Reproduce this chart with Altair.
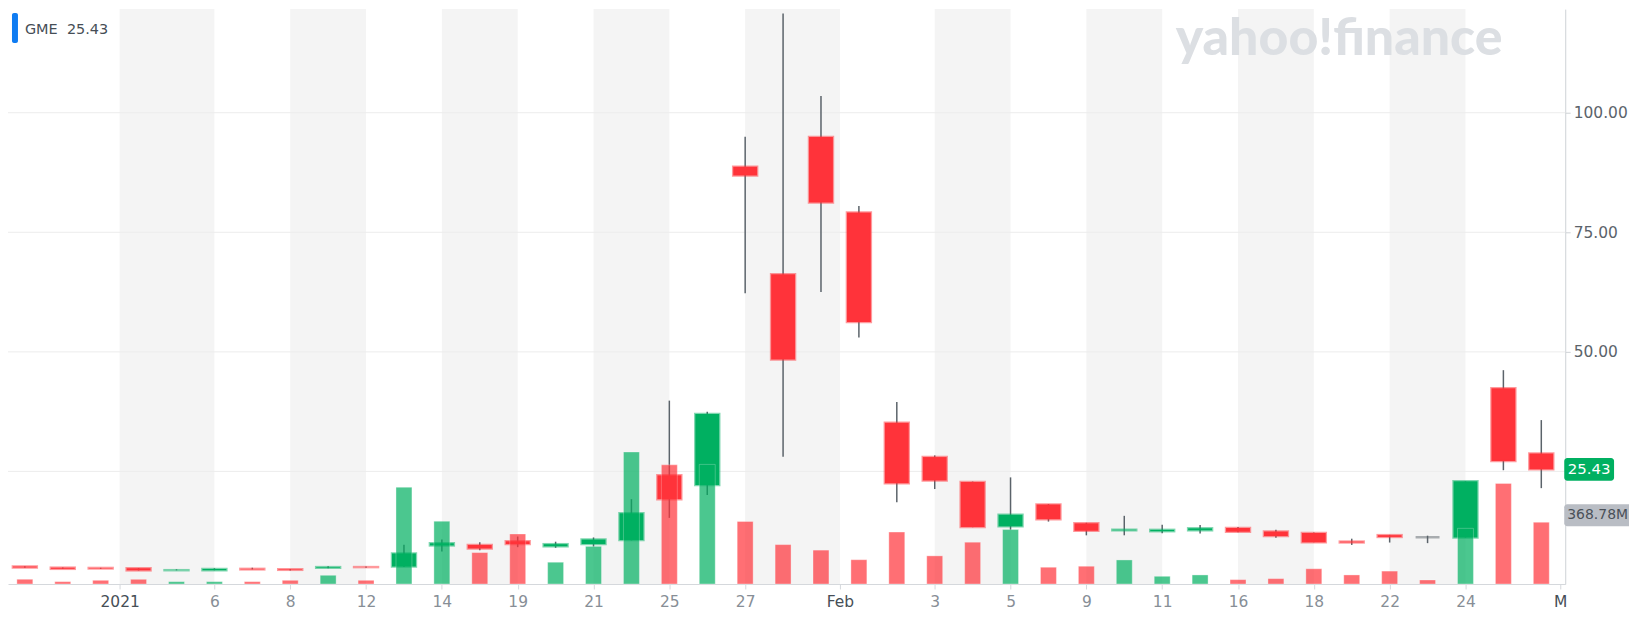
import altair as alt
import pandas as pd
import numpy as np

# ---------------- data (GME, split-adjusted, daily) ----------------
ticker = "GME"
dates = ["Dec 29", "Dec 30", "Dec 31", "Jan 4", "Jan 5", "Jan 6", "Jan 7", "Jan 8", "Jan 11", "Jan 12",
         "Jan 13", "Jan 14", "Jan 15", "Jan 19", "Jan 20", "Jan 21", "Jan 22", "Jan 25", "Jan 26", "Jan 27",
         "Jan 28", "Jan 29", "Feb 1", "Feb 2", "Feb 3", "Feb 4", "Feb 5", "Feb 8", "Feb 9", "Feb 10",
         "Feb 11", "Feb 12", "Feb 16", "Feb 17", "Feb 18", "Feb 19", "Feb 22", "Feb 23", "Feb 24", "Feb 25",
         "Feb 26"]
opens = [5.13, 4.87, 4.81, 4.75, 4.34, 4.335, 4.62, 4.545, 4.85, 4.99,
         5.105, 9.52, 9.62, 10.39, 9.34, 9.81, 10.65, 24.18, 22.14, 88.71,
         66.25, 94.93, 79.14, 35.19, 28.00, 22.80, 13.51, 18.10, 14.15, 12.69,
         12.50, 12.69, 13.165, 12.44, 12.12, 10.32, 11.67, 11.24, 11.18, 42.39,
         28.75]
highs = [5.18, 4.92, 4.84, 4.775, 4.52, 4.745, 4.86, 4.575, 5.16, 5.10,
         9.66, 10.77, 10.19, 11.38, 10.30, 11.19, 19.19, 39.80, 37.50, 95.00,
         120.75, 103.50, 80.50, 39.50, 28.35, 22.875, 23.75, 18.165, 14.25, 15.71,
         13.83, 13.81, 13.375, 12.80, 12.22, 10.93, 11.725, 11.56, 22.93, 46.17,
         35.73]
lows = [4.85, 4.60, 4.62, 4.29, 4.31, 4.33, 4.51, 4.27, 4.75, 4.83,
        5.01, 8.26, 8.50, 9.16, 9.02, 9.25, 10.58, 15.28, 20.05, 62.25,
        28.06, 62.50, 53.00, 18.56, 21.31, 13.33, 12.77, 14.505, 11.63, 11.64,
        12.055, 12.01, 12.26, 11.14, 10.16, 9.625, 10.125, 10.00, 11.18, 25.25,
        21.50]
closes = [4.90, 4.63, 4.71, 4.31, 4.3425, 4.59, 4.52, 4.4225, 4.985, 4.9875,
          7.85, 9.98, 8.875, 9.84, 9.78, 10.76, 16.25, 19.20, 37.00, 86.88,
          48.40, 81.25, 56.25, 22.50, 23.10, 13.375, 15.94, 15.00, 12.58, 12.80,
          12.775, 13.10, 12.38, 11.485, 10.17, 10.15, 11.30, 11.24, 22.93, 27.18,
          25.43]
volumes_m = [28, 14, 22, 28, 14, 14, 14, 22, 52, 22,
             578, 375, 187.6, 298.8, 130, 224.8, 788.6, 711.6, 714.4, 373.6,
             235.3, 202.3, 145, 310, 168, 249.6, 325.2, 100, 106, 143.6,
             46, 54, 26, 32, 91, 54, 77, 24, 332.4, 601,
             368.78]

tick_pos = [2.5, 5, 7, 9, 11, 13, 15, 17, 19, 21.5, 24, 26, 28, 30, 32, 34, 36, 38, 40.5]
tick_labels = ["2021", "6", "8", "12", "14", "19", "21", "25", "27", "Feb",
               "3", "5", "9", "11", "16", "18", "22", "24", "M"]
month_ticks = [2.5, 21.5, 40.5]
band_start = [2.5, 7, 11, 15, 19, 24, 28, 32, 36]
band_end = [5, 9, 13, 17, 21.5, 26, 30, 34, 38]
grid_values = [25, 50, 75, 100]
axis_values = [50, 75, 100]

# ---------------- styling ----------------
GREEN = "#00b061"
RED = "#ff333a"
GRAY = "#5b636a"
FONT = "DejaVu Sans"
W, H = 1563, 577
x_scale = alt.Scale(domain=[-0.313, 40.5], nice=False, zero=False)
p_scale = alt.Scale(domain=[1.458, 121.667], nice=False, zero=False)
v_scale = alt.Scale(domain=[0, 3434], nice=False, zero=False)
c_scale = alt.Scale(domain=["up", "down", "flat"], range=[GREEN, RED, GRAY])

o = np.array(opens); c = np.array(closes)
df = pd.DataFrame({
    "i": np.arange(len(dates)), "date": dates,
    "O": opens, "H": highs, "L": lows, "C": closes, "V": volumes_m,
})
df["dir"] = np.where(c > o, "up", np.where(c < o, "down", "flat"))
df["vdir"] = np.where(c > o, "up", "down")

bands = pd.DataFrame({"i": band_start, "e": band_end})
grid = pd.DataFrame({"v": grid_values})
one = pd.DataFrame({"k": [0]})

label_expr = ("[" + ",".join(f"'{l}'" for l in tick_labels) + "][indexof(["
              + ",".join(str(p) for p in tick_pos) + "], datum.value)]")
month_test = " || ".join(f"datum.value == {m}" for m in month_ticks)

x_axis = alt.Axis(values=tick_pos, labelExpr=label_expr, grid=False, title=None,
                  domainColor="#d5d8dc", tickColor="#d5d8dc", tickSize=5,
                  labelFont=FONT, labelFontSize=15.5, labelPadding=6, labelFlush=True,
                  labelColor={"condition": {"test": month_test, "value": "#464e56"}, "value": "#878e96"})


def X(field="i"):
    return alt.X(f"{field}:Q", scale=x_scale, axis=x_axis, title=None)


band_layer = alt.Chart(bands).mark_rect(color="#f4f4f4").encode(
    x=X("i"), x2="e:Q",
    y=alt.value(0), y2=alt.value(H))

watermark = alt.Chart(one).mark_text(
    text="yahoo!finance", font="Lato", fontSize=52, fontWeight=900,
    color="#dcdfe3", align="center", baseline="middle").encode(
    x=alt.value(1336), y=alt.value(30))

grid_layer = alt.Chart(grid).mark_rule(color="#ececec", strokeWidth=1).encode(
    y=alt.Y("v:Q", scale=p_scale,
            axis=alt.Axis(orient="right", values=axis_values, format=".2f", grid=False, title=None,
                          domainColor="#cfd2d6", tickColor="#cfd2d6", tickSize=5, labelPadding=3,
                          labelFont=FONT, labelFontSize=15.5, labelColor="#5b636a")))

wicks = alt.Chart(df).mark_rule(color=GRAY, strokeWidth=1.5).encode(
    x=X(), y=alt.Y("L:Q", scale=p_scale, axis=None), y2="H:Q")

boxes = alt.Chart(df).mark_bar(size=24, strokeWidth=2.5, strokeOpacity=0.5).encode(
    x=X(), y=alt.Y("O:Q", scale=p_scale, axis=None), y2="C:Q",
    color=alt.Color("dir:N", scale=c_scale, legend=None),
    stroke=alt.Stroke("dir:N", scale=c_scale, legend=None))

volume = alt.Chart(df).mark_bar(size=16, opacity=0.7, stroke="#ffffff", strokeWidth=1,
                                strokeOpacity=0.35).encode(
    x=X(), y=alt.Y("V:Q", scale=v_scale, axis=None, stack=None),
    color=alt.Color("vdir:N", scale=c_scale, legend=None))

last = df.iloc[[-1]]
price_badge = alt.Chart(last).mark_rect(color=GREEN, cornerRadius=3, yOffset=-11.5, y2Offset=11.5).encode(
    x=alt.value(W - 1), x2=alt.value(W + 49),
    y=alt.Y("C:Q", scale=p_scale, axis=None), y2="C:Q")
price_text = alt.Chart(last).mark_text(color="white", font=FONT, fontSize=15, align="center",
                                       baseline="middle").encode(
    x=alt.value(W + 24), y=alt.Y("C:Q", scale=p_scale, axis=None),
    text=alt.Text("C:Q", format=".2f"))

vol_badge = alt.Chart(last).mark_rect(color="#b9bdc4", cornerRadius=3, yOffset=-18, y2Offset=4).encode(
    x=alt.value(W - 1), x2=alt.value(W + 80),
    y=alt.Y("V:Q", scale=v_scale, axis=None), y2="V:Q")
vol_text = alt.Chart(last).transform_calculate(
    vlabel="format(datum.V, '.2f') + 'M'").mark_text(
    color="#4a5058", font=FONT, fontSize=14, align="left", baseline="middle", dx=3, dy=-7).encode(
    x=alt.value(W - 1), y=alt.Y("V:Q", scale=v_scale, axis=None), text="vlabel:N")

legend_bar = alt.Chart(one).mark_rect(color="#0f7cf2", cornerRadius=2).encode(
    x=alt.value(4), x2=alt.value(10), y=alt.value(4), y2=alt.value(34))
legend_text = alt.Chart(last).transform_calculate(
    lbl=f"'{ticker}\u00a0 ' + format(datum.C, '.2f')").mark_text(
    color="#464e56", font=FONT, fontSize=14.5, align="left", baseline="middle").encode(
    x=alt.value(17), y=alt.value(21), text="lbl:N")

chart = alt.layer(
    band_layer, watermark, grid_layer, wicks, boxes, volume,
    price_badge, price_text, vol_badge, vol_text, legend_bar, legend_text
).resolve_scale(y="independent").properties(
    width=W, height=H,
    autosize=alt.AutoSizeParams(type="none"),
    padding={"left": 0, "top": 0, "right": 64, "bottom": 28},
).configure(background="white").configure_view(stroke=None)

chart.save("out.html", embed_options={"renderer": "svg", "actions": False})
